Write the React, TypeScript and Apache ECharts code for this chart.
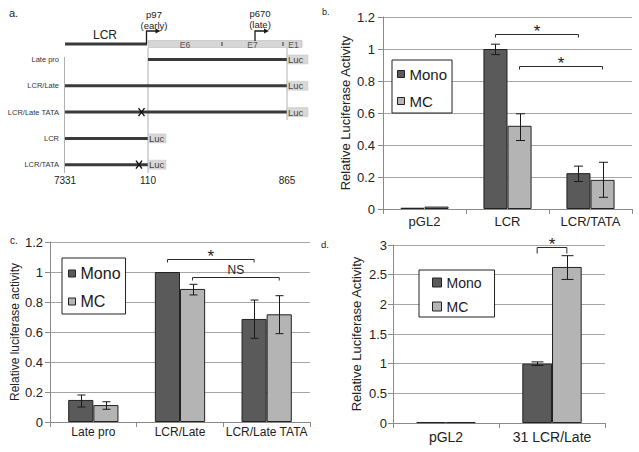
import React, { useEffect, useRef } from 'react';
import * as echarts from 'echarts';

const FONT = 'Liberation Sans, Arial, Helvetica, sans-serif';
const MONO_COLOR = '#5a5a5a';
const MC_COLOR = '#b4b4b4';
const EDGE = '#222222';

// ---------- panel b ----------
const catsB = ['pGL2', 'LCR', 'LCR/TATA'];
const monoB = [0.008, 1.0, 0.224];
const mcB = [0.015, 0.52, 0.182];
const monoLowB = [null, 0.965, 0.172];
const monoHighB = [null, 1.03, 0.268];
const mcLowB = [null, 0.428, 0.073];
const mcHighB = [null, 0.595, 0.292];
const bracketsB = [
  { from: [1, 0], to: [2, 0], y: 1.096, label: '*' },
  { from: [1, 1], to: [2, 1], y: 0.895, label: '*' },
];

// ---------- panel c ----------
const catsC = ['Late pro', 'LCR/Late', 'LCR/Late TATA'];
const monoC = [0.147, 1.0, 0.687];
const mcC = [0.113, 0.887, 0.718];
const monoLowC = [0.1, null, 0.558];
const monoHighC = [0.18, null, 0.813];
const mcLowC = [0.085, 0.847, 0.589];
const mcHighC = [0.135, 0.918, 0.842];
const bracketsC = [
  { from: [1, 0], to: [2, 0], y: 1.087, label: '*' },
  { from: [1, 1], to: [2, 1], y: 0.967, label: 'NS' },
];

// ---------- panel d ----------
const catsD = ['pGL2', '31 LCR/Late'];
const monoD = [0.015, 1.0];
const mcD = [0.015, 2.63];
const monoLowD = [null, 0.97];
const monoHighD = [null, 1.03];
const mcLowD = [null, 2.42];
const mcHighD = [null, 2.82];
const bracketsD = [{ from: [1, 0], to: [1, 1], y: 2.96, label: '*' }];

// ---------- panel a (diagram) ----------
const mapLabels = ['7331', '110', '865'];
const mapX: Record<string, number> = { '7331': 65, '110': 148, '865': 287 };
const constructs = [
  { name: 'Late pro', from: '110', to: '865', tata: false },
  { name: 'LCR/Late', from: '7331', to: '865', tata: false },
  { name: 'LCR/Late TATA', from: '7331', to: '865', tata: true },
  { name: 'LCR', from: '7331', to: '110', tata: false },
  { name: 'LCR/TATA', from: '7331', to: '110', tata: true },
];
const exons = [
  { name: 'E6', from: 148, to: 222 },
  { name: 'E7', from: 222, to: 283 },
  { name: 'E1', from: 283, to: 302 },
];

function errData(lm: (number | null)[], hm: (number | null)[], lc: (number | null)[], hc: (number | null)[]) {
  const out: number[][] = [];
  lm.forEach((lo, i) => { if (lo != null) out.push([i, lo, hm[i] as number, 0]); });
  lc.forEach((lo, i) => { if (lo != null) out.push([i, lo, hc[i] as number, 1]); });
  return out;
}

function errSeries(g: number, data: number[][], frac: number, cap: number) {
  return {
    type: 'custom', xAxisIndex: g, yAxisIndex: g, z: 5, silent: true,
    encode: { x: 0, y: [1, 2] }, data,
    renderItem: (params: any, api: any) => {
      const cat = api.value(0), lo = api.value(1), hi = api.value(2), k = api.value(3);
      const band = api.size([1, 0])[0];
      const off = (k === 0 ? -1 : 1) * band * frac / 2;
      const a = api.coord([cat, lo]);
      const b = api.coord([cat, hi]);
      const x = Math.round(a[0] + off) + 0.5;
      const style = { stroke: '#1a1a1a', lineWidth: 1 };
      return {
        type: 'group', children: [
          { type: 'line', shape: { x1: x, y1: a[1], x2: x, y2: b[1] }, style },
          { type: 'line', shape: { x1: x - cap / 2, y1: a[1], x2: x + cap / 2, y2: a[1] }, style },
          { type: 'line', shape: { x1: x - cap / 2, y1: b[1], x2: x + cap / 2, y2: b[1] }, style },
        ],
      };
    },
  };
}

function bracketSeries(g: number, br: any[], frac: number, tick: number) {
  return {
    type: 'custom', xAxisIndex: g, yAxisIndex: g, z: 6, silent: true,
    encode: { x: [0, 2], y: 4 },
    data: br.map((b) => [b.from[0], b.from[1], b.to[0], b.to[1], b.y]),
    renderItem: (params: any, api: any) => {
      const label = br[params.dataIndex].label;
      const band = api.size([1, 0])[0];
      const off = (k: number) => (k === 0 ? -1 : 1) * band * frac / 2;
      const p1 = api.coord([api.value(0), api.value(4)]);
      const p2 = api.coord([api.value(2), api.value(4)]);
      const x1 = p1[0] + off(api.value(1));
      const x2 = p2[0] + off(api.value(3));
      const y = Math.round(p1[1]) + 0.5;
      const isStar = label === '*';
      return {
        type: 'group', children: [
          { type: 'polyline', shape: { points: [[x1, y + tick], [x1, y], [x2, y], [x2, y + tick]] }, style: { stroke: '#2a2a2a', lineWidth: 1, fill: 'none' } },
          {
            type: 'text', x: (x1 + x2) / 2, y: isStar ? y - 3 : y - 8,
            style: { text: label, fill: '#222', fontSize: isStar ? 17 : 12, fontFamily: FONT, align: 'center', verticalAlign: 'middle' },
          },
        ],
      };
    },
  };
}

function barPair(g: number, mono: number[], mc: number[], width: string) {
  const common = { type: 'bar', xAxisIndex: g, yAxisIndex: g, barWidth: width, barGap: '0%', silent: true };
  return [
    { ...common, name: 'Mono', data: mono, itemStyle: { color: MONO_COLOR, borderColor: EDGE, borderWidth: 1 } },
    { ...common, name: 'MC', data: mc, itemStyle: { color: MC_COLOR, borderColor: EDGE, borderWidth: 1 } },
  ];
}

function xAx(g: number, data: string[], fs: number, margin: number) {
  return {
    type: 'category', gridIndex: g, data,
    axisLine: { lineStyle: { color: '#8a8a8a', width: 1 } },
    axisTick: { show: true, length: 5, lineStyle: { color: '#8a8a8a' } },
    axisLabel: { fontSize: fs, color: '#222', margin, fontFamily: FONT, interval: 0 },
  };
}

function yAx(g: number, max: number, interval: number, name: string, fs: number, margin: number, nameGap: number, nameFs: number) {
  return {
    type: 'value', gridIndex: g, min: 0, max, interval, name, nameLocation: 'middle', nameGap,
    nameTextStyle: { fontSize: nameFs, color: '#222', fontFamily: FONT },
    axisLine: { show: true, lineStyle: { color: '#8a8a8a', width: 1 } },
    axisTick: { show: true, length: 5, lineStyle: { color: '#8a8a8a' } },
    axisLabel: { fontSize: fs, color: '#222', margin, fontFamily: FONT },
    splitLine: { show: true, lineStyle: { color: '#a6a6a6', width: 1 } },
  };
}

function legendBox(left: number, top: number, padding: number[], iw: number, fs: number, gap: number) {
  return {
    data: ['Mono', 'MC'], orient: 'vertical', left, top, padding, itemWidth: iw, itemHeight: iw,
    itemGap: gap, icon: 'rect', selectedMode: false, backgroundColor: '#fff',
    borderColor: '#222', borderWidth: 1, borderRadius: 0,
    itemStyle: { borderColor: EDGE, borderWidth: 1 },
    textStyle: { fontSize: fs, lineHeight: fs + 1, color: '#1a1a1a', fontFamily: FONT },
  };
}

function diagram() {
  const els: any[] = [];
  const dark = '#3a3a3a';
  const txt = (text: string, x: number, y: number, size: number, align = 'center', fill = '#222') => ({
    type: 'text', x, y, silent: true,
    style: { text, fill, fontSize: size, fontFamily: FONT, align, verticalAlign: 'middle' },
  });
  els.push(txt('a.', 9, 13, 11, 'left'));
  // top map line
  els.push({ type: 'line', shape: { x1: mapX['7331'], y1: 44, x2: mapX['110'] - 1, y2: 44 }, style: { stroke: dark, lineWidth: 3 } });
  els.push(txt('LCR', 105, 35, 12));
  // exon bar
  els.push({ type: 'rect', shape: { x: exons[0].from, y: 40.5, width: exons[exons.length - 1].to - exons[0].from, height: 7 }, style: { fill: '#d6d6d6', stroke: '#b8b8b8', lineWidth: 0.6 } });
  exons.forEach((e, i) => {
    if (i > 0) els.push({ type: 'line', shape: { x1: e.from, y1: 42, x2: e.from, y2: 46 }, style: { stroke: '#333', lineWidth: 1 } });
    els.push(txt(e.name, (e.from + e.to) / 2 + (i === 2 ? 1 : 0), 44.5, 8.5, 'center', '#555'));
  });
  // promoter arrows
  const arrow = (x: number, yBase: number, yTop: number, len: number) => {
    els.push({ type: 'polyline', shape: { points: [[x, yBase], [x, yTop], [x + len, yTop]] }, style: { stroke: '#1a1a1a', lineWidth: 1.3, fill: 'none' } });
    els.push({ type: 'polygon', shape: { points: [[x + len - 1, yTop - 2.5], [x + len + 4, yTop], [x + len - 1, yTop + 2.5]] }, style: { fill: '#1a1a1a' } });
  };
  arrow(146.5, 44, 31, 10);
  arrow(255, 41, 31, 10);
  els.push(txt('p97', 154, 14.5, 9.5));
  els.push(txt('(early)', 154, 25, 9.5));
  els.push(txt('p670', 260, 13.5, 9.5));
  els.push(txt('(late)', 260, 24, 9.5));
  // thin guides
  const guide = (x: number, y1: number, y2: number) => els.push({ type: 'line', shape: { x1: x, y1, x2: x, y2 }, style: { stroke: '#b0b0b0', lineWidth: 1 } });
  guide(mapX['7331'] - 0.5, 57, 173);
  guide(mapX['110'], 48, 173);
  guide(mapX['865'], 48, 120);
  // constructs
  constructs.forEach((c, i) => {
    const y = 59.5 + i * 26.3;
    const x1 = mapX[c.from];
    const x2 = mapX[c.to];
    els.push(txt(c.name, 59, y, 7.5, 'right', '#333'));
    els.push({ type: 'line', shape: { x1, y1: y, x2, y2: y }, style: { stroke: dark, lineWidth: 3 } });
    const lw = c.to === '865' ? 21 : 18;
    els.push({ type: 'rect', shape: { x: x2, y: y - 4.5, width: lw, height: 9 }, style: { fill: '#d8d8d8', stroke: '#c4c4c4', lineWidth: 0.5 } });
    els.push(txt('Luc', x2 + 1, y, 9.5, 'left', '#444'));
    if (c.tata) {
      const cx = mapX['110'] - (c.to === '865' ? 6.5 : 9);
      els.push({ type: 'line', shape: { x1: cx - 3, y1: y - 4, x2: cx + 3, y2: y + 4 }, style: { stroke: '#111', lineWidth: 1.4 } });
      els.push({ type: 'line', shape: { x1: cx + 3, y1: y - 4, x2: cx - 3, y2: y + 4 }, style: { stroke: '#111', lineWidth: 1.4 } });
    }
  });
  mapLabels.forEach((l) => els.push(txt(l, mapX[l], 180, 10)));
  // panel letters
  els.push(txt('b.', 322, 12, 9, 'left'));
  els.push(txt('c.', 10, 240, 10, 'left'));
  els.push(txt('d.', 321, 244, 9.5, 'left'));
  return els;
}

const option: any = {
  animation: false,
  backgroundColor: '#ffffff',
  textStyle: { fontFamily: FONT },
  grid: [
    { left: 383, top: 17, width: 249, height: 192 },
    { left: 50, top: 242, width: 260, height: 180 },
    { left: 393, top: 245, width: 212, height: 178 },
  ],
  xAxis: [xAx(0, catsB, 13, 6), xAx(1, catsC, 12, 4), xAx(2, catsD, 14, 7)],
  yAxis: [
    yAx(0, 1.2, 0.2, 'Relative Luciferase Activity', 13, 8, 31, 13),
    yAx(1, 1.2, 0.2, 'Relative luciferase activity', 13, 7, 27, 12),
    yAx(2, 3, 0.5, 'Relative Luciferase Activity', 13, 6, 30, 13),
  ],
  legend: [
    legendBox(392, 60, [6, 5, 4, 5], 7, 15, 11),
    legendBox(62, 258, [7, 5, 4, 6], 7, 16, 11),
    legendBox(419, 270, [5, 13, 3, 13], 9, 14, 9),
  ],
  series: [
    ...barPair(0, monoB, mcB, '29%'),
    ...barPair(1, monoC, mcC, '29%'),
    ...barPair(2, monoD, mcD, '28%'),
    errSeries(0, errData(monoLowB, monoHighB, mcLowB, mcHighB), 0.29, 9),
    errSeries(1, errData(monoLowC, monoHighC, mcLowC, mcHighC), 0.29, 8),
    errSeries(2, errData(monoLowD, monoHighD, mcLowD, mcHighD), 0.28, 12),
    bracketSeries(0, bracketsB, 0.29, 3),
    bracketSeries(1, bracketsC, 0.29, 3),
    bracketSeries(2, bracketsD, 0.28, 6),
  ],
  graphic: { elements: diagram() },
};

export default function App() {
  const ref = useRef<HTMLDivElement>(null);
  useEffect(() => {
    const chart = echarts.init(ref.current as HTMLDivElement, null, { renderer: 'svg' });
    chart.setOption(option);
    return () => chart.dispose();
  }, []);
  return (
    <div
      ref={ref}
      style={{ position: 'fixed', left: 0, top: 0, width: 639, height: 452, background: '#fff' }}
    />
  );
}
